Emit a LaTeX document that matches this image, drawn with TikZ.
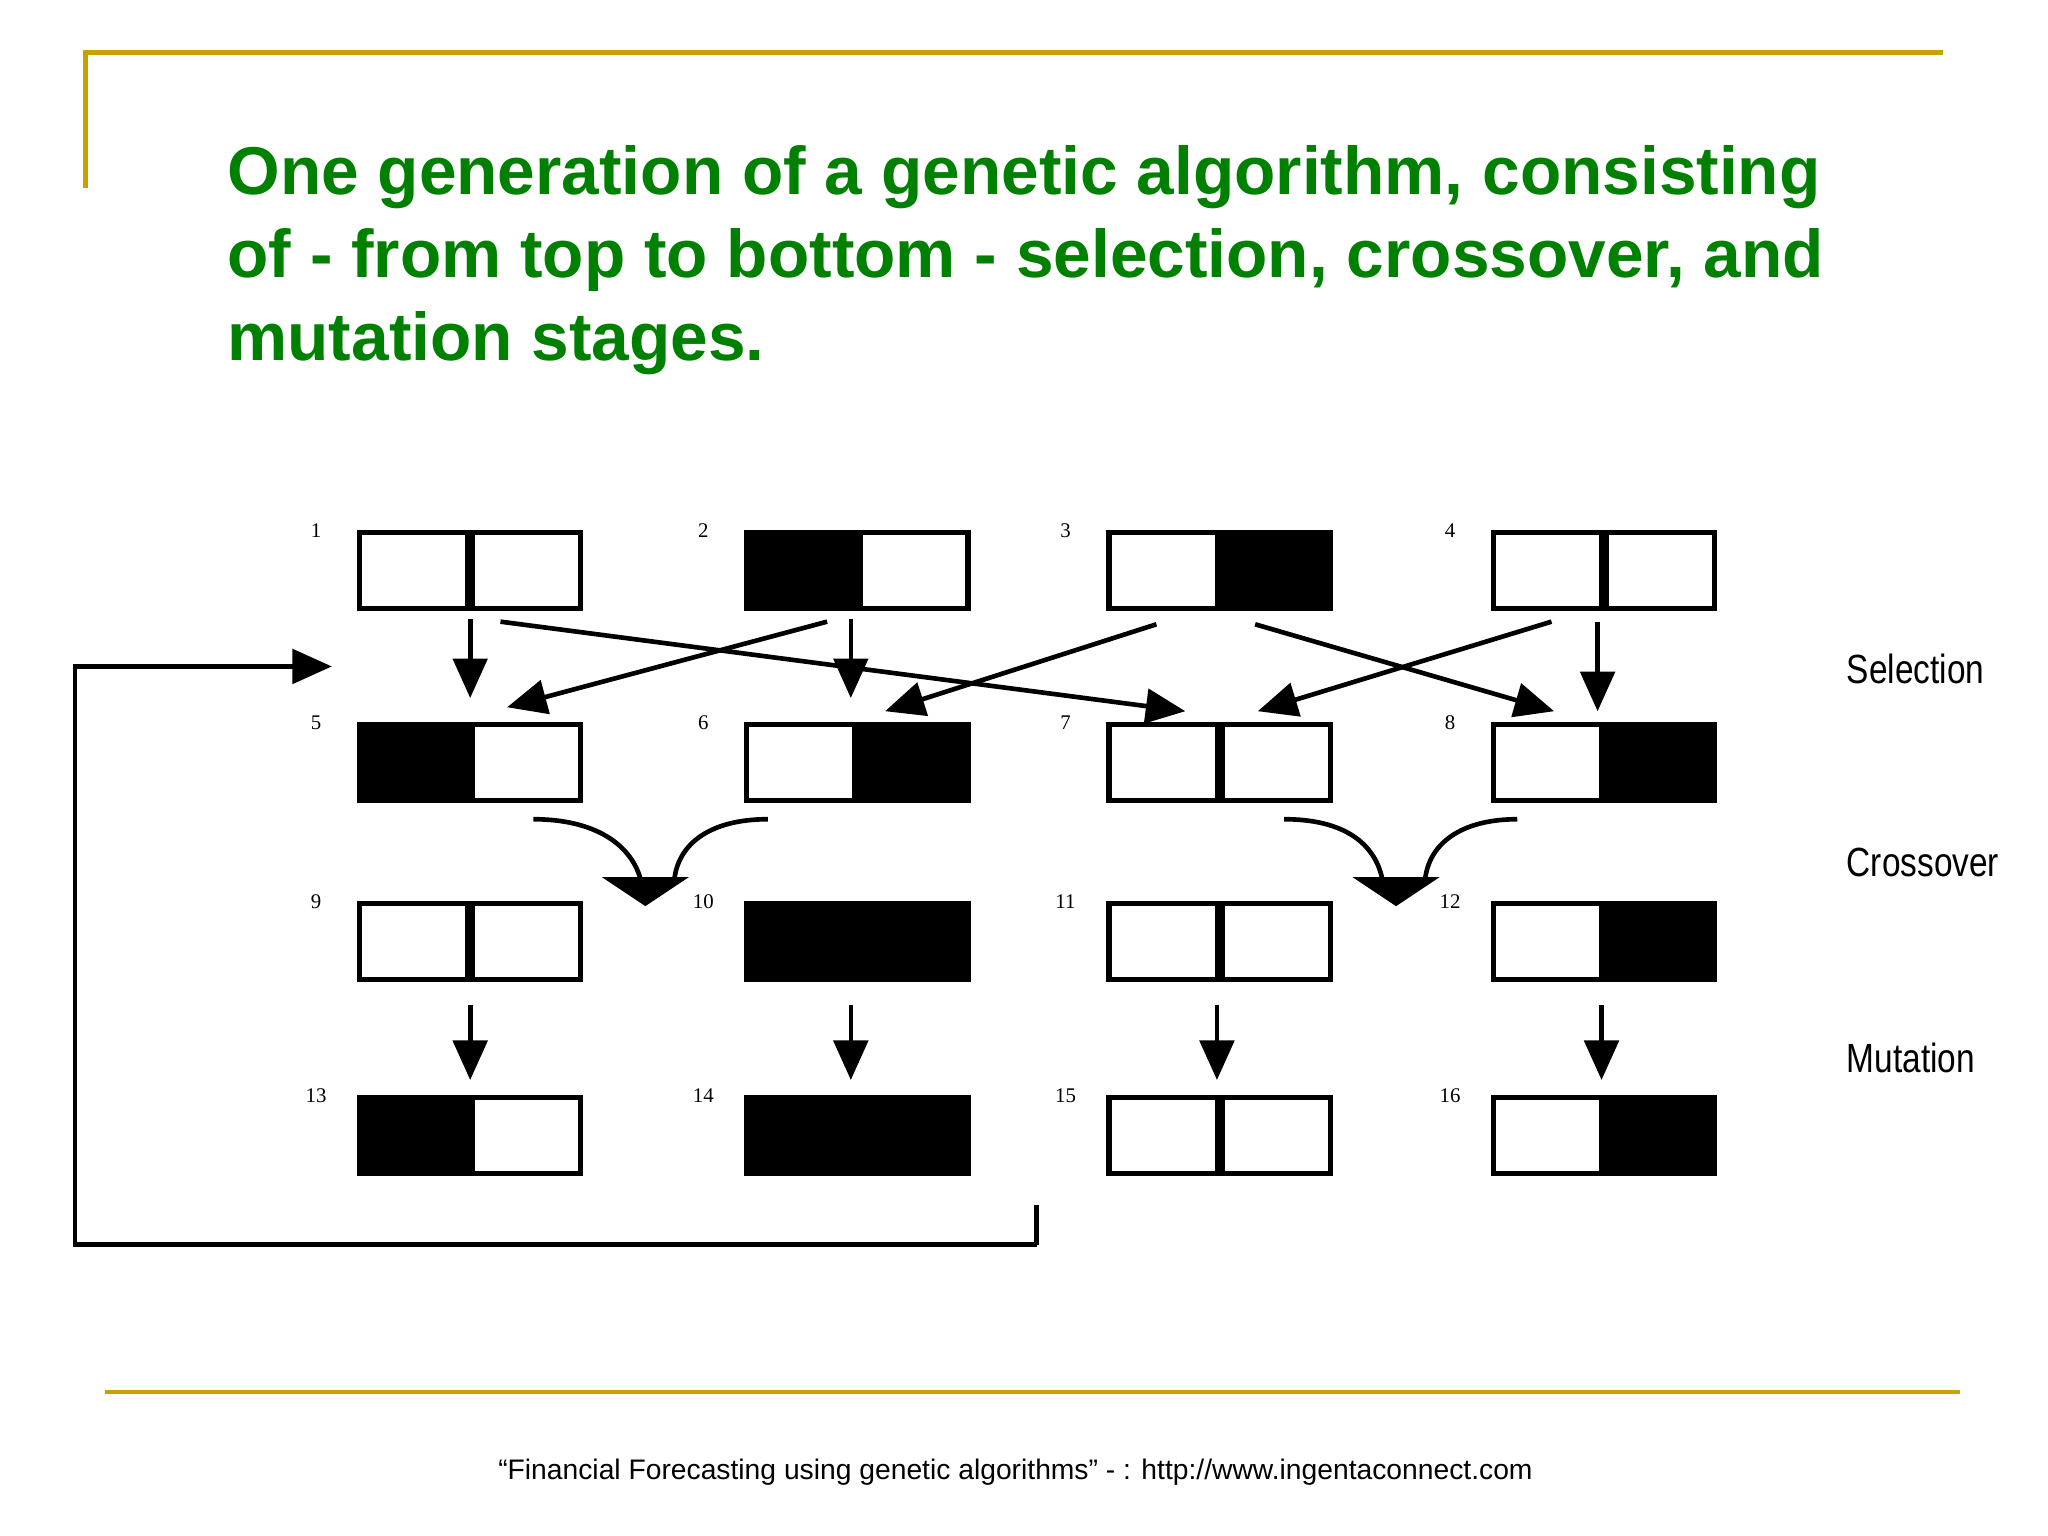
\documentclass[tikz,border=0pt]{standalone}
\usepackage{fontspec}
\setmainfont{Liberation Serif}
\setsansfont{Liberation Sans}
\usetikzlibrary{arrows.meta}
\definecolor{gold}{RGB}{200,160,0}
\definecolor{titlegreen}{RGB}{0,128,0}
\begin{document}
\begin{tikzpicture}[x=0.01cm,y=-0.01cm,
  half/.style={draw=black,line width=1.1pt,minimum width=0.82cm,minimum height=0.58cm,inner sep=0pt},
  num/.style={font=\fontsize{4.5}{4.5}\selectfont,anchor=north},
  arr/.style={line width=1pt,-{Triangle[length=0.3cm,width=0.26cm]}},
  stage/.style={font=\sffamily\fontsize{8.8}{8.8}\selectfont,xscale=0.82,anchor=west},
  goldline/.style={gold,line width=1pt}]
\useasboundingbox (0,0) rectangle (1555,1166);
\draw[goldline] (65,143) -- (65,40) -- (1475,40);
\draw[goldline] (80,1057) -- (1488,1057);
\node[anchor=north west,align=left,text=titlegreen,font=\sffamily\bfseries\fontsize{14.6}{17.9}\selectfont,inner sep=0pt] (title) at (172,110)
 {One generation of a genetic algorithm, consisting\\of - from top to bottom - selection, crossover, and\\mutation stages.};
\foreach \cx/\cy/\lf/\rf/\n in {
 357/433/white/white/1, 651/433/black/white/2, 926/433/white/black/3, 1218/433/white/white/4,
 357/579/black/white/5, 651/579/white/black/6, 926/579/white/white/7, 1218/579/white/black/8,
 357/715/white/white/9, 651/715/black/black/10, 926/715/white/white/11, 1218/715/white/black/12,
 357/862/black/white/13, 651/862/black/black/14, 926/862/white/white/15, 1218/862/white/black/16}{
 \node[half,fill=\lf,anchor=east] (b\n l) at (\cx,\cy) {};
 \node[half,fill=\rf,anchor=west] (b\n r) at (\cx,\cy) {};
 \node[num] (n\n) at (\cx-117,\cy-48) {\n};
}
\coordinate (s1a) at (357,470); \coordinate (s1b) at (357,530);
\coordinate (s2a) at (646,470); \coordinate (s2b) at (646,530);
\coordinate (s4a) at (1213,472); \coordinate (s4b) at (1213,540);
\draw[arr] (s1a) -- (s1b);
\draw[arr] (s2a) -- (s2b);
\draw[arr] (s4a) -- (s4b);
\coordinate (d1a) at (380,472); \coordinate (d1b) at (900,540);
\coordinate (d2a) at (628,472); \coordinate (d2b) at (385,537);
\coordinate (d3a) at (878,474); \coordinate (d3b) at (672,540);
\coordinate (d4a) at (953,474); \coordinate (d4b) at (1180,540);
\coordinate (d5a) at (1178,472); \coordinate (d5b) at (955,540);
\foreach \i in {1,...,5} \draw[arr] (d\i a) -- (d\i b);
\coordinate (c1) at (490,688); \coordinate (c2) at (1060,688);
\draw[line width=1pt] (405,622) .. controls (450,622) and (480,640) .. (487,670);
\draw[line width=1pt] (583,622) .. controls (540,622) and (515,640) .. (512,668);
\fill (c1) -- ++(-33,-22) -- ++(66,0) -- cycle;
\draw[line width=1pt] (975,622) .. controls (1020,622) and (1045,640) .. (1050,670);
\draw[line width=1pt] (1152,622) .. controls (1110,622) and (1085,640) .. (1082,668);
\fill (c2) -- ++(-33,-22) -- ++(66,0) -- cycle;
\foreach \x in {357,646,924,1216} \draw[arr] (\x,763) -- (\x,820);
\coordinate (f0) at (787,915); \coordinate (f1) at (787,945);
\coordinate (f2) at (57,945); \coordinate (f3) at (57,506); \coordinate (f4) at (252,506);
\draw[line width=1pt] (f0) -- (f1);
\draw[arr] (f1) -- (f2) -- (f3) -- (f4);
\node[stage] (sel) at (1392,508) {Selection};
\node[stage] (cro) at (1392,655) {Crossover};
\node[stage] (mut) at (1392,803) {Mutation};
\node[font=\sffamily\fontsize{6.1}{6.1}\selectfont] (foot) at (771,1118)
 {“Financial Forecasting using genetic algorithms” - : http://www.ingentaconnect.com};
\end{tikzpicture}
\end{document}
